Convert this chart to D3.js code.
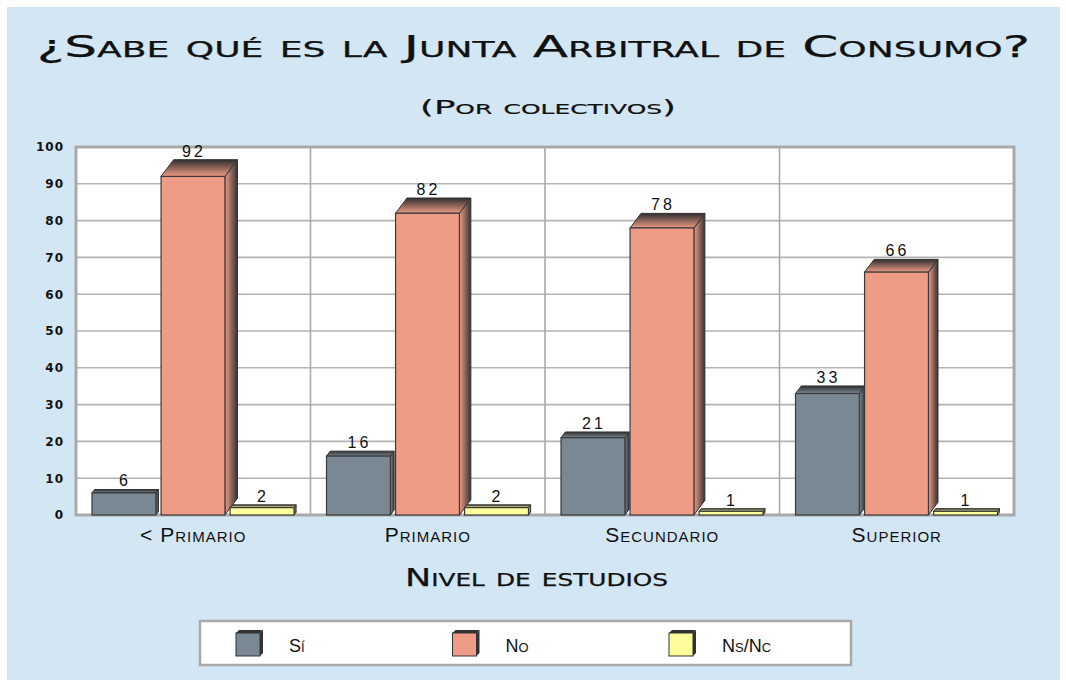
<!DOCTYPE html>
<html>
<head>
<meta charset="utf-8">
<script src="https://cdn.jsdelivr.net/npm/d3@7"></script>
<style>
  body { margin: 0; background: #fff; }
  svg { display: block; }
  .sc { font-variant: small-caps; }
</style>
</head>
<body>
<svg id="chart"></svg>
<script>
// data
var categories = ["< Primario", "Primario", "Secundario", "Superior"]
var seriesNames = ["Sí", "No", "Ns/Nc"]
var siValues = [6, 16, 21, 33]
var noValues = [92, 82, 78, 66]
var nsncValues = [2, 2, 1, 1]
var yTicks = [0, 10, 20, 30, 40, 50, 60, 70, 80, 90, 100]
var colors = ["#7a8893", "#ee9c85", "#fdfd9c"]

var screen = {width: 1066, height: 685}
var plot = {left: 76, top: 147, right: 1014, bottom: 515}

var series = [siValues, noValues, nsncValues]

var svg = d3.select("#chart")
    .attr("width", screen.width)
    .attr("height", screen.height)

// gradients for the 3d faces
var defs = svg.append("defs")
colors.forEach(function(c, i) {
    var top = defs.append("linearGradient")
        .attr("id", "top" + i)
        .attr("x1", 0).attr("y1", 0).attr("x2", 0).attr("y2", 1)
    top.append("stop").attr("offset", "0%").attr("stop-color", "#2e2e2e")
    top.append("stop").attr("offset", "100%").attr("stop-color", c)
    var side = defs.append("linearGradient")
        .attr("id", "side" + i)
        .attr("x1", 0).attr("y1", 0).attr("x2", 1).attr("y2", 0)
    side.append("stop").attr("offset", "0%").attr("stop-color", c)
    side.append("stop").attr("offset", "100%").attr("stop-color", "#333")
})

// blue panel
svg.append("rect")
    .attr("x", 7).attr("y", 7)
    .attr("width", 1053).attr("height", 673)
    .attr("fill", "#d2e6f4")

// titles
svg.append("text")
    .attr("class", "sc")
    .attr("x", 37).attr("y", 57)
    .attr("textLength", 993)
    .attr("lengthAdjust", "spacingAndGlyphs")
    .style("font-family", "DejaVu Sans")
    .style("font-size", "30px")
    .style("fill", "#111")
    .style("stroke", "#111").style("stroke-width", 0.25)
    .text("¿Sabe qué es la Junta Arbitral de Consumo?")

svg.append("text")
    .attr("class", "sc")
    .attr("x", 420).attr("y", 114)
    .attr("textLength", 256)
    .attr("lengthAdjust", "spacingAndGlyphs")
    .style("font-family", "DejaVu Sans")
    .style("font-size", "20px")
    .style("fill", "#111")
    .style("stroke", "#111").style("stroke-width", 0.2)
    .text("(Por colectivos)")

var x0 = d3.scaleBand()
    .domain(categories)
    .range([plot.left, plot.right])

var x1 = d3.scaleBand()
    .domain(seriesNames)
    .range([16, 218])
    .paddingInner(0.075)

var yScale = d3.scaleLinear()
    .domain([0, 100])
    .range([plot.bottom, plot.top])

// plot background
svg.append("rect")
    .attr("x", plot.left).attr("y", plot.top)
    .attr("width", plot.right - plot.left)
    .attr("height", plot.bottom - plot.top)
    .attr("fill", "#fff")

var grid = svg.append("g")
grid.selectAll("line.h")
    .data(yTicks.slice(1, -1))
    .enter()
    .append("line")
    .attr("x1", plot.left).attr("x2", plot.right)
    .attr("y1", function(d) { return yScale(d) })
    .attr("y2", function(d) { return yScale(d) })
    .attr("stroke", "#b4b4b4")
    .attr("stroke-width", 1.6)

grid.selectAll("line.v")
    .data(categories.slice(1))
    .enter()
    .append("line")
    .attr("x1", function(d) { return x0(d) })
    .attr("x2", function(d) { return x0(d) })
    .attr("y1", plot.top).attr("y2", plot.bottom)
    .attr("stroke", "#a8a8a8")
    .attr("stroke-width", 1.6)

// frame
svg.append("rect")
    .attr("x", plot.left).attr("y", plot.top)
    .attr("width", plot.right - plot.left)
    .attr("height", plot.bottom - plot.top)
    .attr("fill", "none")
    .attr("stroke", "#a9a9a9")
    .attr("stroke-width", 3)

// y axis labels
var yAxis = d3.axisLeft(yScale).tickValues(yTicks).tickSize(0).tickPadding(3)
var yg = svg.append("g")
    .attr("transform", "translate(" + 67 + ",0)")
    .call(yAxis)
yg.select(".domain").remove()
yg.selectAll("text")
    .style("font-family", "DejaVu Sans")
    .style("font-weight", "bold")
    .style("font-size", "12px")
    .style("letter-spacing", "1px")
    .style("fill", "#111")

// x axis labels
var xAxis = d3.axisBottom(x0).tickSize(0).tickPadding(12)
var xg = svg.append("g")
    .attr("transform", "translate(0," + plot.bottom + ")")
    .call(xAxis)
xg.select(".domain").remove()
xg.selectAll("text")
    .attr("class", "sc")
    .style("font-family", "Liberation Sans")
    .style("font-size", "21px")
    .style("letter-spacing", "1px")
    .style("fill", "#111")

svg.append("text")
    .attr("class", "sc")
    .attr("x", 405).attr("y", 586)
    .attr("textLength", 263)
    .attr("lengthAdjust", "spacingAndGlyphs")
    .style("font-family", "DejaVu Sans")
    .style("font-size", "24px")
    .style("fill", "#111")
    .style("stroke", "#111").style("stroke-width", 0.25)
    .text("Nivel de estudios")

// bars
var depth = function(v) { return 2.5 + v * 0.155 }

var bars = []
categories.forEach(function(c, ci) {
    series.forEach(function(s, si) {
        bars.push({cat: c, name: seriesNames[si], s: si, value: s[ci]})
    })
})

var bw = x1.bandwidth()
var barG = svg.append("g")
    .selectAll("g")
    .data(bars)
    .enter()
    .append("g")

barG.each(function(d) {
    var g = d3.select(this)
    var x = x0(d.cat) + x1(d.name)
    var yv = yScale(d.value)
    var y0 = yScale(0)
    var dy = depth(d.value)
    var dx = dy * 0.75
    g.append("path")
        .attr("d", "M" + (x + bw) + "," + yv + "L" + (x + bw + dx) + "," + (yv - dy) +
              "L" + (x + bw + dx) + "," + (y0 - dy) + "L" + (x + bw) + "," + y0 + "Z")
        .attr("fill", "url(#side" + d.s + ")")
        .attr("stroke", "#333").attr("stroke-width", 1)
    g.append("path")
        .attr("d", "M" + x + "," + yv + "L" + (x + dx) + "," + (yv - dy) +
              "L" + (x + bw + dx) + "," + (yv - dy) + "L" + (x + bw) + "," + yv + "Z")
        .attr("fill", "url(#top" + d.s + ")")
        .attr("stroke", "#333").attr("stroke-width", 1)
    g.append("rect")
        .attr("x", x).attr("y", yv)
        .attr("width", bw).attr("height", y0 - yv)
        .attr("fill", colors[d.s])
        .attr("stroke", "#3a3a3a").attr("stroke-width", 1.2)
    g.append("text")
        .attr("x", x + bw / 2 + 1)
        .attr("y", yv - dy - 3)
        .attr("text-anchor", "middle")
        .style("font-family", "Liberation Sans")
        .style("font-size", "16px")
        .style("letter-spacing", "3px")
        .style("fill", "#111")
        .text(d.value)
})

// legend
var legend = svg.append("g")
legend.append("rect")
    .attr("x", 200).attr("y", 621)
    .attr("width", 651).attr("height", 44)
    .attr("fill", "#fff")
    .attr("stroke", "#aaa")
    .attr("stroke-width", 2.5)

var legendX = d3.scalePoint()
    .domain(seriesNames)
    .range([236, 669])

var items = legend.selectAll("g.item")
    .data(seriesNames)
    .enter()
    .append("g")
    .attr("transform", function(d) { return "translate(" + legendX(d) + ",0)" })

items.append("path")
    .attr("d", "M0,633L3,630L27,630L24,633Z")
    .attr("fill", "#333")
items.append("path")
    .attr("d", "M24,633L27,630L27,653L24,656Z")
    .attr("fill", "#333")
items.append("rect")
    .attr("x", 0).attr("y", 633)
    .attr("width", 24).attr("height", 23)
    .attr("fill", function(d, i) { return colors[i] })
    .attr("stroke", "#333").attr("stroke-width", 1)
items.append("text")
    .attr("class", "sc")
    .attr("x", 53).attr("y", 652)
    .style("font-family", "Liberation Sans")
    .style("font-size", "18px")
    .style("fill", "#111")
    .text(function(d) { return d })
</script>
</body>
</html>
